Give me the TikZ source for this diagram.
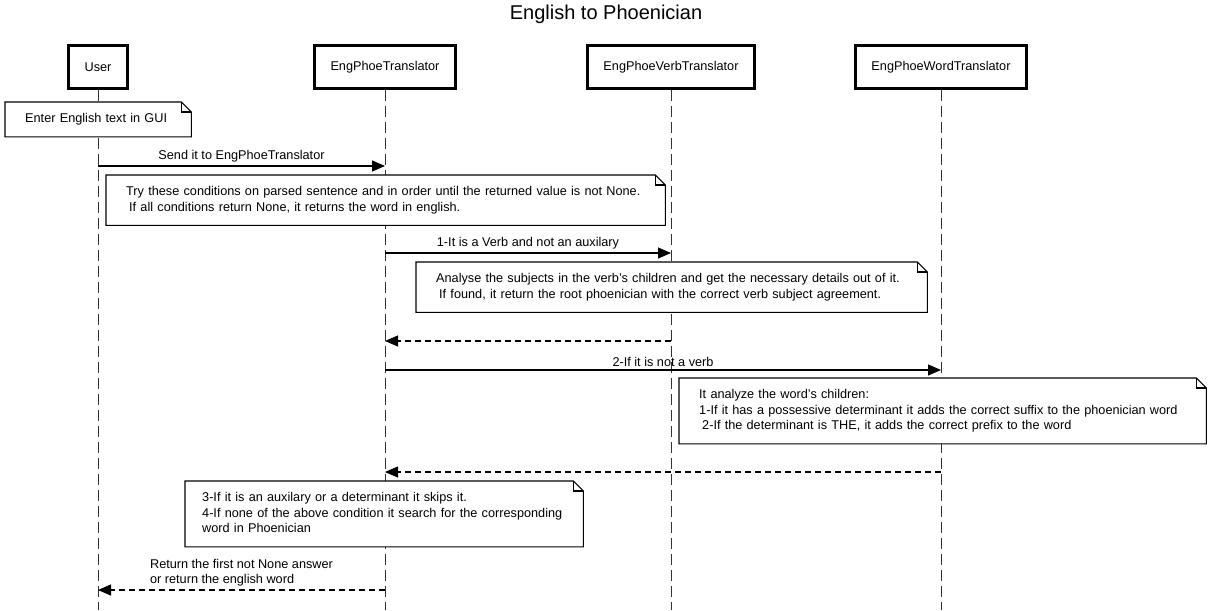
\documentclass[tikz,border=0pt]{standalone}
\usepackage{fontspec}
\setmainfont{Liberation Sans}
\usepackage{tikz}
\usetikzlibrary{positioning,calc}
\usetikzlibrary{arrows.meta}

\tikzset{
    actor/.style={draw, line width=2.4pt, fill=white, inner xsep=16pt, minimum height=43pt, font=\fontsize{12.7}{15}\selectfont},
    lifeline/.style={draw=black!80, line width=1pt, dash pattern=on 11pt off 5pt},
    msg/.style={line width=1.1pt, -{Triangle[length=13pt,width=11pt]}},
    reply/.style={msg, dash pattern=on 6pt off 4pt},
    note/.style={fill=white, anchor=north west, align=left, inner xsep=20pt, inner ysep=9.5pt,
        font=\fontsize{12.7}{15.5}\selectfont,
        execute at begin node={\hyphenpenalty=10000 \strut}, execute at end node={\strut}},
    msglabel/.style={midway, above, inner sep=3pt, font=\fontsize{12.7}{15.5}\selectfont}
}

% outline of a note with its folded corner
\newcommand{\drawnote}[1]{%
    \draw[line width=1.1pt] (#1.south west) -- (#1.north west) -- ([xshift=-10pt]#1.north east)
        -- ([yshift=-10pt]#1.north east) -- (#1.south east) -- cycle;
    \draw[line width=1.1pt] ([xshift=-10pt]#1.north east) |- ([yshift=-10pt]#1.north east);
}

\begin{document}
\begin{tikzpicture}[x=1pt, y=-1pt]
    \useasboundingbox (0,0) rectangle (1209,610);

    % Title
    \node (title) at (606,14) {\fontsize{20}{24}\selectfont English to Phoenician};

    % Actors
    \node[actor] (user) at (98,67) {User};
    \node[actor] (trans) at (385,67) {EngPhoeTranslator};
    \node[actor] (verb) at (671,67) {EngPhoeVerbTranslator};
    \node[actor] (word) at (941,67) {EngPhoeWordTranslator};

    % Lifelines
    \coordinate (bottom) at (0,610);
    \foreach \a in {user,trans,verb,word}
        \draw[lifeline] (\a.south) -- (\a.south |- bottom);

    % Enter text
    \node[note, text width=146pt] (gui) at (5,102) {Enter English text in GUI};
    \drawnote{gui}

    \draw[msg] (user |- 0,166) -- (trans |- 0,166) node[msglabel] {Send it to EngPhoeTranslator};

    \node[note, text width=519pt] (tryall) at (106,175) {Try these conditions on parsed sentence and in order until the returned value is not None.\\
        \hspace*{3pt}If all conditions return None, it returns the word in english.};
    \drawnote{tryall}

    % 1 - verb
    \draw[msg] (trans |- 0,253) -- (verb |- 0,253) node[msglabel] {1-It is a Verb and not an auxilary};

    \node[note, text width=471pt] (verbnote) at (416,262) {Analyse the subjects in the verb's children and get the necessary details out of it.\\
        \hspace*{3pt}If found, it return the root phoenician with the correct verb subject agreement.};
    \drawnote{verbnote}

    \draw[reply] (verb |- 0,341) -- (trans |- 0,341);

    % 2 - not a verb
    \draw[msg] (trans |- 0,370) -- (word |- 0,370) node[msglabel] {2-If it is not a verb};

    \node[note, text width=487pt] (wordnote) at (679,378) {It analyze the word's children:\\
        1-If it has a possessive determinant it adds the correct suffix to the phoenician word\\
        \hspace*{3pt}2-If the determinant is THE, it adds the correct prefix to the word};
    \drawnote{wordnote}

    \draw[reply] (word |- 0,472) -- (trans |- 0,472);

    % 3 and 4
    \node[note, text width=364pt, inner xsep=17pt] (skipnote) at (185,481) {3-If it is an auxilary or a determinant it skips it.\\
        4-If none of the above condition it search for the corresponding\\
        word in Phoenician};
    \drawnote{skipnote}

    % Answer back to the user
    \draw[reply] (trans |- 0,590) -- (user |- 0,590) node[msglabel, align=left] {Return the first not None answer\\or return the english word};

\end{tikzpicture}
\end{document}
